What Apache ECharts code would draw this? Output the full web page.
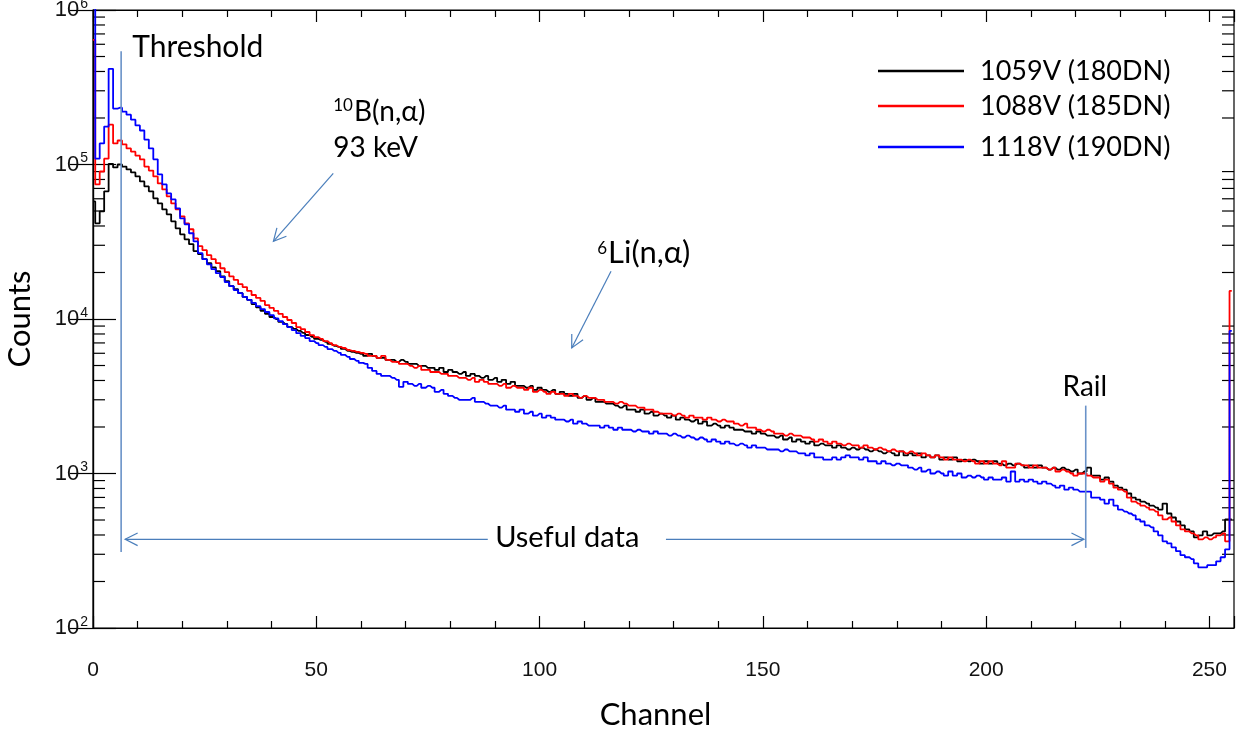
<!DOCTYPE html>
<html>
<head>
<meta charset="utf-8">
<script src="https://cdn.jsdelivr.net/npm/echarts@6/dist/echarts.min.js"></script>
<style>
html,body{margin:0;padding:0;background:#fff;}
#chart{width:1239px;height:729px;}
</style>
</head>
<body>
<div id="chart"></div>
<script>
// ---------------- data ----------------
const seriesNames = ['1059V (180DN)', '1088V (185DN)', '1118V (190DN)'];
const seriesColors = ['#000000', '#ff0000', '#0000ff'];

const black = [
57700, 41600, 49800, 67000, 101000, 95700, 100000, 97000, 92900, 88800,
83700, 77700, 72100, 67000, 60400, 56000, 51200, 47600, 42900, 38600,
35300, 32800, 30500, 27500, 26300, 24400, 23000, 21600, 20400, 18900,
17600, 16300, 15600, 14700, 13900, 13300, 12500, 11900, 11300, 10800,
10300, 10000, 9570, 9290, 8880, 8620, 8370, 8130, 7880, 7660,
7430, 7320, 7110, 6900, 6700, 6600, 6400, 6220, 6130, 6040,
5950, 5770, 5950, 5770, 5600, 5600, 5430, 5430, 5280, 5430,
5280, 5120, 5120, 4970, 4970, 4830, 4830, 4680, 4830, 4540,
4680, 4540, 4410, 4540, 4280, 4410, 4280, 4160, 4280, 4040,
4160, 3920, 4040, 3800, 3920, 3690, 3690, 3590, 3690, 3480,
3590, 3480, 3380, 3480, 3280, 3380, 3280, 3180, 3280, 3090,
3180, 3000, 3090, 2910, 2910, 2830, 2830, 2750, 2670, 2750,
2590, 2590, 2510, 2590, 2440, 2510, 2370, 2440, 2370, 2300,
2370, 2230, 2300, 2230, 2170, 2230, 2100, 2170, 2040, 2100,
2040, 1980, 2040, 1980, 1920, 1920, 1870, 1870, 1810, 1870,
1810, 1760, 1760, 1710, 1760, 1660, 1710, 1610, 1660, 1610,
1560, 1610, 1520, 1560, 1520, 1520, 1470, 1520, 1470, 1430,
1470, 1430, 1470, 1430, 1390, 1430, 1390, 1350, 1390, 1350,
1310, 1390, 1310, 1350, 1310, 1350, 1270, 1310, 1270, 1310,
1230, 1270, 1230, 1270, 1200, 1230, 1200, 1230, 1200, 1160,
1200, 1160, 1200, 1160, 1130, 1160, 1130, 1160, 1130, 1090,
1130, 1090, 1130, 1090, 1060, 1090, 1060, 1090, 1060, 1030,
1060, 1000, 1030, 1090, 970, 970, 914, 942, 887, 835,
810, 786, 742, 699, 678, 658, 639, 620, 602, 584,
639, 551, 519, 489, 461, 435, 422, 386, 398, 422,
398, 410, 410, 422, 504, 504
];

const red = [
640000, 74300, 90100, 109000, 181000, 137000, 143000, 135000, 127000, 121000,
114000, 108000, 97000, 91400, 83700, 75400, 69000, 62200, 56000, 51200,
46200, 41600, 38100, 33300, 29600, 27900, 25900, 24400, 23000, 21300,
20100, 18900, 17900, 16800, 16100, 15200, 14300, 13700, 13100, 12300,
11800, 11300, 10800, 10300, 9850, 9420, 8870, 8600, 8240, 7870,
7630, 7430, 7200, 6990, 6780, 6600, 6490, 6300, 6220, 6130,
6040, 5950, 5770, 5770, 5600, 5770, 5430, 5280, 5280, 5120,
5120, 4970, 4830, 4970, 4680, 4680, 4540, 4540, 4410, 4410,
4280, 4280, 4160, 4160, 4040, 4160, 3920, 4040, 3920, 3800,
3800, 3690, 3800, 3590, 3690, 3590, 3590, 3480, 3590, 3380,
3480, 3380, 3280, 3380, 3280, 3280, 3180, 3280, 3180, 3090,
3180, 3090, 3090, 3000, 3000, 2910, 2910, 2830, 2910, 2830,
2750, 2750, 2670, 2670, 2590, 2590, 2510, 2440, 2440, 2440,
2370, 2440, 2370, 2300, 2370, 2300, 2300, 2230, 2300, 2230,
2170, 2230, 2170, 2170, 2100, 2040, 2100, 1980, 1980, 1920,
1870, 1920, 1870, 1810, 1810, 1760, 1810, 1760, 1760, 1710,
1710, 1660, 1610, 1660, 1610, 1560, 1610, 1560, 1520, 1560,
1520, 1520, 1470, 1520, 1470, 1430, 1470, 1430, 1390, 1430,
1390, 1390, 1350, 1390, 1350, 1310, 1350, 1310, 1270, 1310,
1270, 1230, 1270, 1230, 1230, 1200, 1230, 1200, 1160, 1200,
1160, 1200, 1160, 1130, 1200, 1090, 1090, 1160, 1130, 1130,
1090, 1130, 1090, 1090, 1060, 1090, 1030, 1060, 1030, 1000,
970, 1000, 1000, 970, 942, 942, 887, 914, 860, 810,
786, 763, 699, 658, 639, 620, 602, 584, 567, 535,
504, 519, 489, 461, 435, 422, 410, 398, 375, 386,
375, 386, 398, 410, 364, 15200
];

const blue = [
1500000, 109000, 137000, 176000, 416000, 230000, 233000, 220000, 210000, 195000,
179000, 166000, 145000, 127000, 108000, 86200, 74300, 65000, 59400, 52000,
44800, 41000, 35900, 31800, 26700, 24400, 22600, 21000, 19800, 18700,
17300, 16300, 15400, 14700, 13900, 13300, 12700, 12100, 11600, 11100,
10600, 10100, 9700, 9260, 8870, 8480, 8100, 7770, 7530, 7200,
6990, 6780, 6600, 6390, 6220, 6040, 5850, 5690, 5510, 5360,
5200, 5120, 4830, 4610, 4410, 4280, 4280, 4160, 4040, 3640,
3920, 3800, 3690, 3800, 3590, 3690, 3590, 3380, 3480, 3280,
3180, 3090, 3000, 3000, 3000, 3090, 2910, 2910, 2830, 2750,
2750, 2670, 2750, 2590, 2590, 2510, 2590, 2440, 2510, 2370,
2440, 2300, 2370, 2300, 2230, 2230, 2170, 2230, 2100, 2170,
2100, 2040, 2040, 2040, 1980, 2040, 1980, 1920, 1980, 1920,
1920, 1870, 1920, 1870, 1870, 1810, 1870, 1810, 1810, 1760,
1810, 1760, 1710, 1760, 1710, 1660, 1710, 1660, 1610, 1660,
1610, 1560, 1610, 1560, 1520, 1560, 1520, 1470, 1520, 1470,
1470, 1430, 1430, 1430, 1390, 1430, 1390, 1390, 1350, 1350,
1310, 1350, 1270, 1270, 1230, 1230, 1270, 1230, 1270, 1310,
1270, 1270, 1230, 1270, 1200, 1200, 1160, 1200, 1160, 1130,
1160, 1130, 1130, 1090, 1060, 1090, 1030, 1060, 1000, 1030,
1000, 970, 1030, 970, 1000, 942, 970, 942, 970, 942,
914, 942, 914, 914, 942, 887, 1030, 887, 914, 887,
914, 887, 860, 887, 860, 835, 810, 835, 786, 810,
786, 763, 763, 763, 699, 699, 678, 639, 678, 620,
584, 567, 551, 535, 504, 489, 461, 448, 422, 398,
364, 353, 333, 314, 296, 287, 279, 262, 247, 247,
255, 255, 270, 287, 323, 8370
];

const channels = black.map((_, i) => i);
const yMinorTicks = [];
[100, 1000, 10000, 100000].forEach(d => { for (let k = 2; k <= 9; k++) yMinorTicks.push(k * d); });

// annotations, in data coordinates [channel, counts]
const thresholdLine = [[6.3, 540000], [6.3, 310]];
const railLine = [[222.3, 2750], [222.3, 330]];
const usefulLeft = [[88.4, 375], [7.2, 375]];    // arrow tip at second point
const usefulRight = [[128.3, 375], [221.9, 375]];
const boronArrow = [[53.8, 87500], [40.4, 31800]];
const lithiumArrow = [[116, 20400], [107.2, 6500]];
const textThreshold = [8.8, 577000];
const textBoron = [53.8, 220000];
const textKeV = [53.8, 127000];
const textLithium = [112.9, 26700];
const textRail = [222.1, 3640];
const textUseful = [106.2, 386];

// ---------------- chart ----------------
const chart = echarts.init(document.getElementById('chart'), null, {renderer: 'canvas'});
const FONT = 'Lato';
const TICKFONT = 'Liberation Sans';
const values = [black, red, blue];

const lineSeries = seriesNames.map((name, i) => ({
  name: name,
  type: 'line',
  step: 'middle',
  showSymbol: false,
  symbol: 'none',
  clip: true,
  data: channels.map(c => [c, values[i][c]]),
  lineStyle: {color: seriesColors[i], width: 1.8},
  itemStyle: {color: seriesColors[i]},
  z: 3 + i
}));

const legends = seriesNames.map((name, i) => ({
  data: [{name: name, icon: 'rect'}],
  left: 878,
  top: [56, 91, 132][i],
  padding: 0,
  itemWidth: 86,
  itemHeight: 2.5,
  selectedMode: false,
  textStyle: {fontFamily: FONT, fontSize: 27, color: '#000', padding: [0, 0, 0, 11], lineHeight: 30}
}));

const option = {
  animation: false,
  backgroundColor: '#fff',
  legend: legends,
  grid: {left: 93, right: 5, top: 10, bottom: 101, show: true, borderColor: '#000', borderWidth: 1.2,
    containLabel: false, outerBoundsMode: 'none'},
  xAxis: [{
    type: 'value', min: 0, max: 255.5, interval: 50,
    name: 'Channel', nameLocation: 'middle', nameGap: 71,
    nameTextStyle: {fontFamily: FONT, fontSize: 31, color: '#000', padding: [0, 16, 0, 0]},
    axisLine: {show: true, lineStyle: {color: '#000', width: 1.2}},
    axisTick: {show: true, inside: true, length: 12, lineStyle: {color: '#000', width: 1.2}},
    minorTick: {show: true, splitNumber: 5, length: 7, lineStyle: {color: '#000', width: 1.2}},
    axisLabel: {show: true, margin: 32, fontFamily: TICKFONT, fontSize: 21, color: '#111', showMaxLabel: false,
      formatter: v => (v % 50 === 0 ? String(v) : '')},
    splitLine: {show: false}
  }, {
    type: 'value', min: 0, max: 255.5, interval: 50, position: 'top',
    axisLine: {show: true, lineStyle: {color: '#000', width: 1.2}},
    axisTick: {show: true, inside: true, length: 12, lineStyle: {color: '#000', width: 1.2}},
    minorTick: {show: true, splitNumber: 5, length: 7, lineStyle: {color: '#000', width: 1.2}},
    axisLabel: {show: false},
    splitLine: {show: false}
  }],
  yAxis: [{
    type: 'log', logBase: 10, min: 100, max: 1000000,
    name: 'Counts', nameLocation: 'middle', nameGap: 58,
    nameTextStyle: {fontFamily: FONT, fontSize: 31, color: '#000'},
    axisLine: {show: true, lineStyle: {color: '#000', width: 1.2}},
    axisTick: {show: true, inside: true, length: 23, lineStyle: {color: '#000', width: 1.2}},
    axisLabel: {
      show: true, margin: 5, color: '#111', fontFamily: TICKFONT, fontSize: 22,
      formatter: v => '{b|10}{s|' + Math.round(Math.log10(v)) + '}',
      rich: {
        b: {fontFamily: TICKFONT, fontSize: 22, color: '#111'},
        s: {fontFamily: TICKFONT, fontSize: 14, color: '#111', verticalAlign: 'bottom', padding: [0, 0, 12, 1]}
      }
    },
    splitLine: {show: false}
  }, {
    type: 'log', logBase: 10, min: 100, max: 1000000, position: 'right',
    axisLine: {show: true, lineStyle: {color: '#000', width: 1.2}},
    axisTick: {show: true, inside: true, length: 23, lineStyle: {color: '#000', width: 1.2}},
    axisLabel: {show: false},
    splitLine: {show: false}
  }],
  series: lineSeries.concat([{
    name: 'minorY',
    type: 'custom',
    silent: true,
    z: 2,
    data: yMinorTicks.map(v => [0, v]),
    renderItem: function (params, api) {
      const p = api.coord([0, api.value(1)]);
      const cs = params.coordSys;
      return {
        type: 'group',
        children: [
          {type: 'line', shape: {x1: cs.x, y1: p[1], x2: cs.x + 12, y2: p[1]}, style: {stroke: '#000', lineWidth: 1.2}},
          {type: 'line', shape: {x1: cs.x + cs.width - 12, y1: p[1], x2: cs.x + cs.width, y2: p[1]}, style: {stroke: '#000', lineWidth: 1.2}}
        ]
      };
    }
  }])
};

chart.setOption(option);

// ---------------- annotations (placed through the chart's scales) ----------------
const P = pt => chart.convertToPixel({xAxisIndex: 0, yAxisIndex: 0}, pt);
const ANN = '#4a7ebb';
const VLINE = '#6a92c8';

function seg(a, b, color, w) {
  const p = P(a), q = P(b);
  return {type: 'line', z: 50, shape: {x1: p[0], y1: p[1], x2: q[0], y2: q[1]}, style: {stroke: color, lineWidth: w}};
}
function arrow(a, b, color) {
  const p = P(a), q = P(b);
  const ang = Math.atan2(p[1] - q[1], p[0] - q[0]);
  const L = 14, da = 0.47;
  const w1 = [q[0] + L * Math.cos(ang + da), q[1] + L * Math.sin(ang + da)];
  const w2 = [q[0] + L * Math.cos(ang - da), q[1] + L * Math.sin(ang - da)];
  return [
    {type: 'line', z: 50, shape: {x1: p[0], y1: p[1], x2: q[0], y2: q[1]}, style: {stroke: color, lineWidth: 1.2}},
    {type: 'polyline', z: 50, shape: {points: [w1, q, w2]}, style: {stroke: color, lineWidth: 1.2, fill: null}}
  ];
}
function label(pt, text, align, size) {
  const p = P(pt);
  return {
    type: 'text', z: 60, x: p[0], y: p[1],
    style: {text: text, fontFamily: FONT, fontSize: size || 29, fill: '#000', align: align, verticalAlign: 'middle'}
  };
}
function supLabel(pt, sup, main, size) {
  const p = P(pt);
  return {type: 'text', z: 60, x: p[0], y: p[1], style: {
    text: '{s|' + sup + '}{n|' + main + '}', align: 'left', verticalAlign: 'middle',
    rich: {
      s: {fontFamily: FONT, fontSize: 17, fill: '#000', verticalAlign: 'bottom', padding: [0, 1, 12, 0]},
      n: {fontFamily: FONT, fontSize: size, fill: '#000'}
    }
  }};
}

const g = [];
g.push(seg(thresholdLine[0], thresholdLine[1], VLINE, 1.6));
g.push(seg(railLine[0], railLine[1], VLINE, 1.6));
arrow(usefulLeft[0], usefulLeft[1], ANN).forEach(e => g.push(e));
arrow(usefulRight[0], usefulRight[1], ANN).forEach(e => g.push(e));
arrow(boronArrow[0], boronArrow[1], ANN).forEach(e => g.push(e));
arrow(lithiumArrow[0], lithiumArrow[1], ANN).forEach(e => g.push(e));
g.push(label(textThreshold, 'Threshold', 'left', 30));
g.push(label(textKeV, '93 keV', 'left', 28));
g.push(label(textRail, 'Rail', 'center', 28));
g.push(label(textUseful, 'Useful data', 'center', 29));
g.push(supLabel(textBoron, '10', 'B(n,α)', 28));
g.push(supLabel(textLithium, '6', 'Li(n,α)', 31));

chart.setOption({graphic: g});
</script>
</body>
</html>
